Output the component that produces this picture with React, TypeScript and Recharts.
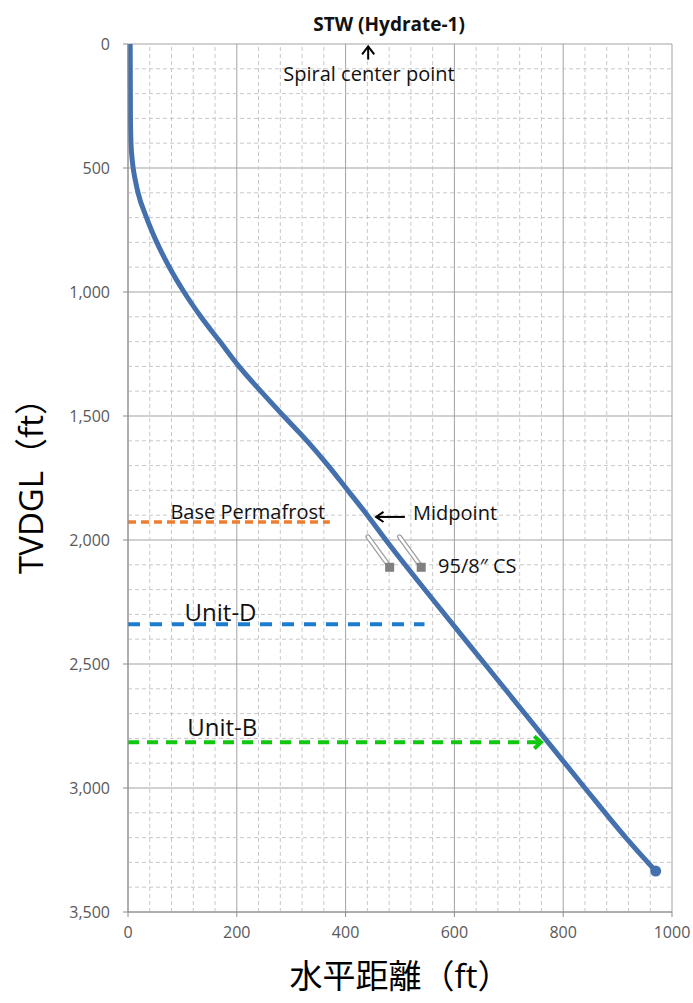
import React from 'react';
import {
  ComposedChart,
  Line,
  XAxis,
  YAxis,
  CartesianGrid,
  ReferenceLine,
  ReferenceDot,
} from 'recharts';

// well path: horizontal offset (ft) vs true vertical depth (ft)
const pathOffset = [4, 4.5, 5.5, 7, 9.5, 13.5, 18.5, 34, 53, 76, 103, 134, 169, 204, 244, 286, 329, 368, 404, 440, 474, 564, 656, 748, 840, 915, 970];
const pathDepth = [0, 300, 400, 450, 500, 550, 600, 700, 800, 900, 1000, 1100, 1200, 1300, 1400, 1500, 1600, 1700, 1800, 1900, 2000, 2250, 2500, 2750, 3000, 3200, 3335];

const xTicks = [0, 200, 400, 600, 800, 1000];
const depthTicks = [0, 500, 1000, 1500, 2000, 2500, 3000, 3500];
const xMinorTicks = [40, 80, 120, 160, 240, 280, 320, 360, 440, 480, 520, 560, 640, 680, 720, 760, 840, 880, 920, 960];
const depthMinorTicks = [100, 200, 300, 400, 600, 700, 800, 900, 1100, 1200, 1300, 1400, 1600, 1700, 1800, 1900, 2100, 2200, 2300, 2400, 2600, 2700, 2800, 2900, 3100, 3200, 3300, 3400];

// horizon markers: depth, extent
const horizonNames = ['Base Permafrost', 'Unit-D', 'Unit-B'];
const horizonDepth = [1927, 2340, 2816];
const horizonEnd = [371, 545, 759];

// text notes
const noteText = ['STW (Hydrate-1)', 'Spiral center point', 'Base Permafrost', 'Midpoint', '95/8\u2033 CS', 'Unit-D', 'Unit-B'];
const noteX = [480, 443, 78, 524, 570, 104, 109];
const noteDepth = [-51, 148, 1915, 1918, 2132, 2328, 2789];

// casing symbols (start / end)
const casingX1 = [441, 499];
const casingD1 = [1987, 1987];
const casingX2 = [481, 539];
const casingD2 = [2108, 2108];

const data = pathOffset.map((x, i) => ({ x, depth: pathDepth[i] }));
const FONT = "'Open Sans', 'Noto Sans CJK JP', sans-serif";
const lastIdx = data.length - 1;

const arrowShape = (color: string, width: number, head: number, spread: number, dash?: string) => (p: any) => {
  const { x1, y1, x2, y2 } = p;
  const a = Math.atan2(y2 - y1, x2 - x1);
  const hx1 = x2 - head * Math.cos(a - spread);
  const hy1 = y2 - head * Math.sin(a - spread);
  const hx2 = x2 - head * Math.cos(a + spread);
  const hy2 = y2 - head * Math.sin(a + spread);
  return (
    <g>
      <line x1={x1} y1={y1} x2={x2} y2={y2} stroke={color} strokeWidth={width} strokeDasharray={dash} />
      <polyline points={`${hx1},${hy1} ${x2},${y2} ${hx2},${hy2}`} fill="none" stroke={color} strokeWidth={width} />
    </g>
  );
};

const casingShape = (p: any) => {
  const { x1, y1, x2, y2 } = p;
  return (
    <g>
      <line x1={x1} y1={y1} x2={x2} y2={y2} stroke="#a0a0a0" strokeWidth={5} strokeLinecap="round" />
      <line x1={x1} y1={y1} x2={x2} y2={y2} stroke="#ffffff" strokeWidth={2.4} strokeLinecap="round" />
      <rect x={x2 - 4.5} y={y2 - 4} width={9} height={9} fill="#808080" />
    </g>
  );
};

const textShape = (text: string, i: number) => (p: any) => {
  const bold = i === 0;
  const big = text.startsWith('Unit');
  const centered = i < 2;
  return (
    <text
      x={p.cx}
      y={p.cy}
      textAnchor={centered ? 'middle' : 'start'}
      fontFamily={FONT}
      fontSize={big ? 24 : bold ? 19 : 20}
      fontWeight={bold ? 700 : 400}
      fill="#111"
    >
      {text}
    </text>
  );
};

export default function App() {
  return (
    <div style={{ position: 'absolute', left: 0, top: 0, width: 693, height: 1003, background: '#fff' }}>
      <ComposedChart width={693} height={1003} data={data} margin={{ top: 44, right: 21, bottom: 0, left: 0 }}>
        {xMinorTicks.map((v) => (
          <ReferenceLine key={`mx-${v}`} x={v} stroke="#c8c8c8" strokeDasharray="4 3" />
        ))}
        {depthMinorTicks.map((v) => (
          <ReferenceLine key={`my-${v}`} y={v} stroke="#c8c8c8" strokeDasharray="4 3" />
        ))}
        <CartesianGrid stroke="#a3a3a3" />
        <XAxis
          type="number"
          dataKey="x"
          domain={[0, 1000]}
          ticks={xTicks}
          height={91}
          tickSize={5}
          tickMargin={10}
          tick={{ fill: '#595959', fontSize: 16, fontFamily: FONT }}
          axisLine={{ stroke: '#8c8c8c' }}
          tickLine={{ stroke: '#8c8c8c' }}
          label={{
            value: '水平距離（ft）',
            position: 'insideBottom',
            offset: 15,
            style: { fontSize: 33, fill: '#000', fontFamily: FONT },
          }}
        />
        <YAxis
          type="number"
          domain={[0, 3500]}
          ticks={depthTicks}
          reversed
          width={128}
          tickSize={5}
          tickMargin={13}
          tick={{ fill: '#595959', fontSize: 16, fontFamily: FONT }}
          tickFormatter={(v) => Number(v).toLocaleString('en-US')}
          axisLine={{ stroke: '#8c8c8c' }}
          tickLine={{ stroke: '#8c8c8c' }}
          label={{
            value: 'TVDGL（ft）',
            angle: -90,
            position: 'insideLeft',
            offset: 31,
            style: { textAnchor: 'middle', fontSize: 33, fill: '#000', fontFamily: FONT },
          }}
        />

        <ReferenceLine
          segment={[{ x: 0, y: horizonDepth[0] }, { x: horizonEnd[0], y: horizonDepth[0] }]}
          stroke="#ED7D31"
          strokeWidth={3.5}
          strokeDasharray="8 5"
        />
        <ReferenceLine
          segment={[{ x: 0, y: horizonDepth[1] }, { x: horizonEnd[1], y: horizonDepth[1] }]}
          stroke="#1C7CD0"
          strokeWidth={4}
          strokeDasharray="12 10"
        />
        <ReferenceLine
          segment={[{ x: 0, y: horizonDepth[2] }, { x: horizonEnd[2], y: horizonDepth[2] }]}
          shape={arrowShape('#10C810', 4, 9, 0.75, '11 8')}
        />

        {casingX1.map((x, i) => (
          <ReferenceLine
            key={`cs-${i}`}
            segment={[{ x, y: casingD1[i] }, { x: casingX2[i], y: casingD2[i] }]}
            shape={casingShape}
          />
        ))}

        {/* spiral center arrow and midpoint arrow */}
        <ReferenceLine
          segment={[{ x: 441.5, y: 63 }, { x: 441.5, y: 10 }]}
          shape={arrowShape('#000', 2, 10, 0.65)}
        />
        <ReferenceLine
          segment={[{ x: 509, y: 1907 }, { x: 456, y: 1907 }]}
          shape={arrowShape('#000', 2, 9, 0.6)}
        />

        <Line
          dataKey="depth"
          type="monotone"
          stroke="#4470AD"
          strokeWidth={5}
          isAnimationActive={false}
          dot={(p: any) =>
            p.index === lastIdx ? (
              <circle key="end" cx={p.cx} cy={p.cy} r={5.5} fill="#4470AD" />
            ) : (
              <g key={`d-${p.index}`} />
            )
          }
          activeDot={false}
        />

        {noteText.map((t, i) => (
          <ReferenceDot
            key={`n-${i}`}
            x={noteX[i]}
            y={noteDepth[i]}
            r={0}
            ifOverflow="visible"
            shape={textShape(t, i)}
          />
        ))}
      </ComposedChart>
    </div>
  );
}
